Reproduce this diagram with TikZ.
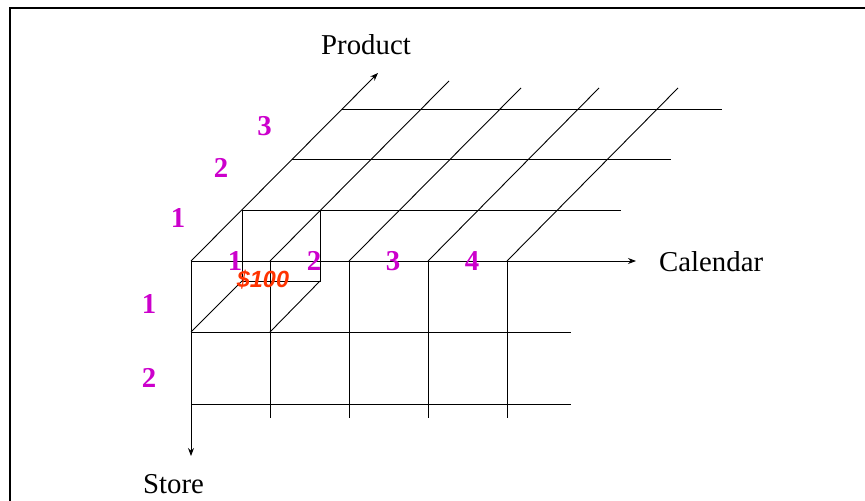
\documentclass[tikz,border=0pt]{standalone}
\usepackage{fontspec}
\setmainfont{Liberation Serif}
\newfontfamily\arialfont{Liberation Sans}
\usetikzlibrary{arrows.meta}
\definecolor{numcol}{HTML}{CC00CC}
\definecolor{valcol}{HTML}{FF3300}
\tikzset{
  gridline/.style={line width=0.9bp, black},
  axisline/.style={line width=0.9bp, black, -{Stealth[length=8bp,width=6bp]}},
  framestyle/.style={line width=2.6bp, black},
  axlabel/.style={inner sep=0pt, font=\fontsize{28.9}{32}\selectfont},
  numlab/.style={inner sep=0pt, anchor=base, text=numcol, font=\fontsize{28.9}{32}\selectfont\bfseries},
  vallab/.style={inner sep=0pt, anchor=base, text=valcol, font=\arialfont\fontsize{23.5}{26}\selectfont\bfseries\itshape},
}
\begin{document}
\begin{tikzpicture}[x=1bp,y=-1bp]
\useasboundingbox (0,0) rectangle (865,501);
% frame
\coordinate (fbl) at (10,520);
\coordinate (ftl) at (10,8);
\coordinate (ftr) at (880,8);
\draw[framestyle] (fbl) -- (ftl) -- (ftr);
% origin and axis ends
\coordinate (O) at (191,261);
\coordinate (calEnd) at (636,261);
\coordinate (stoEnd) at (191,456);
\coordinate (proEnd) at (378,73);
% front grid
\coordinate (v1t) at (270,261); \coordinate (v1b) at (270,418);
\coordinate (v2t) at (349,261); \coordinate (v2b) at (349,418);
\coordinate (v3t) at (428,261); \coordinate (v3b) at (428,418);
\coordinate (v4t) at (507,261); \coordinate (v4b) at (507,418);
\coordinate (h1l) at (191,332); \coordinate (h1r) at (571,332);
\coordinate (h2l) at (191,404); \coordinate (h2r) at (571,404);
\draw[gridline] (v1t) -- (v1b);
\draw[gridline] (v2t) -- (v2b);
\draw[gridline] (v3t) -- (v3b);
\draw[gridline] (v4t) -- (v4b);
\draw[gridline] (h1l) -- (h1r);
\draw[gridline] (h2l) -- (h2r);
% top diagonals
\coordinate (d1) at (449,81);
\coordinate (d2) at (521,88);
\coordinate (d3) at (599,88);
\coordinate (d4) at (678,88);
\draw[gridline] (v1t) -- (d1);
\draw[gridline] (v2t) -- (d2);
\draw[gridline] (v3t) -- (d3);
\draw[gridline] (v4t) -- (d4);
% back horizontals
\coordinate (b1l) at (242,210); \coordinate (b1r) at (621,210);
\coordinate (b2l) at (292,159); \coordinate (b2r) at (671,159);
\coordinate (b3l) at (342,109); \coordinate (b3r) at (722,109);
\draw[gridline] (b1l) -- (b1r);
\draw[gridline] (b2l) -- (b2r);
\draw[gridline] (b3l) -- (b3r);
% cube
\coordinate (c1) at (242,210); \coordinate (c2) at (320,210);
\coordinate (c3) at (320,281); \coordinate (c4) at (242,281);
\draw[gridline] (c1) -- (c4) -- (c3) -- (c2);
\draw[gridline] (h1l) -- (c4);
\coordinate (f1) at (270,332);
\draw[gridline] (f1) -- (c3);
% axes
\draw[axisline] (O) -- (calEnd);
\draw[axisline] (O) -- (stoEnd);
\draw[axisline] (O) -- (proEnd);
% axis labels
\node[axlabel, anchor=base] (tProduct) at (366,55) {Product};
\node[axlabel, anchor=base west] (tCalendar) at (659,272) {Calendar};
\node[axlabel, anchor=base west] (tStore) at (143,493) {Store};
% calendar numbers
\node[numlab] (c1n) at (235,271) {1};
\node[numlab] (c2n) at (314,271) {2};
\node[numlab] (c3n) at (393,271) {3};
\node[numlab] (c4n) at (472,271) {4};
% store numbers
\node[numlab] (s1n) at (149,314) {1};
\node[numlab] (s2n) at (149,387) {2};
% product numbers
\node[numlab] (p1n) at (178,228) {1};
\node[numlab] (p2n) at (221,178) {2};
\node[numlab] (p3n) at (264.5,136) {3};
% value
\node[vallab] (val) at (263,288) {\$100};
\end{tikzpicture}
\end{document}
